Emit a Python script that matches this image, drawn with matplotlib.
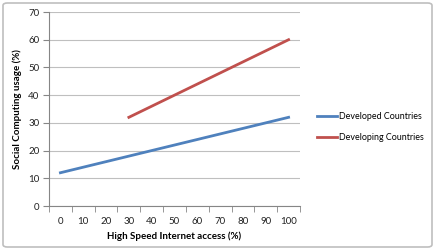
import matplotlib
matplotlib.use("Agg")
import matplotlib.pyplot as plt
from matplotlib.patches import FancyBboxPatch
import numpy as np

# datos
categorias = ["0", "10", "20", "30", "40", "50", "60", "70", "80", "90", "100"]
desarrollados = [12, 14, 16, 18, 20, 22, 24, 26, 28, 30, 32]
en_desarrollo = [None, None, None, 32, 36, 40, 44, 48, 52, 56, 60]

plt.rcParams['font.family'] = ['Lato', 'DejaVu Sans']
tam = 7

fig = plt.figure(figsize=(4.37, 2.5), dpi=100)
ax = fig.add_axes([49/437, 44/250, 251/437, 194/250])

# borde exterior del gráfico
borde = FancyBboxPatch((3/437, 3/250), 429/437, 244/250, boxstyle="round,pad=0,rounding_size=0.01",
                       transform=fig.transFigure, fill=False, edgecolor='#BFBFBF', linewidth=1.2)
fig.patches.append(borde)

x = np.arange(len(categorias))
y2 = np.array([np.nan if v is None else v for v in en_desarrollo], dtype=float)
ax.plot(x, desarrollados, color='#4F81BD', linewidth=2, label='Developed Countries')
ax.plot(x, y2, color='#C0504D', linewidth=2, label='Developing Countries')

ax.set_xlim(-0.5, len(categorias) - 0.5)
ax.set_ylim(0, 70)
ax.set_yticks(range(0, 71, 10))
ax.set_xticks(x)
ax.set_xticklabels(categorias)
ax.set_xticks(np.arange(-0.5, len(categorias), 1), minor=True)
ax.tick_params(axis='x', which='major', length=0, pad=8, labelsize=tam, colors='#222222')
ax.tick_params(axis='x', which='minor', length=4, color='#868686', direction='out')
ax.tick_params(axis='y', length=4, color='#868686', labelsize=tam, pad=3, labelcolor='#222222')

ax.grid(axis='y', color='#BFBFBF', linewidth=0.8)
ax.set_axisbelow(True)
for lado in ['top', 'right']:
    ax.spines[lado].set_visible(False)
for lado in ['left', 'bottom']:
    ax.spines[lado].set_color('#868686')
    ax.spines[lado].set_linewidth(0.8)

ax.set_xlabel('High Speed Internet access (%)', fontsize=tam, fontweight='bold', labelpad=4)
ax.set_ylabel('Social Computing usage (%)', fontsize=tam, fontweight='bold', labelpad=4)

ax.legend(loc='center left', bbox_to_anchor=(309/437, 1 - 127/250), bbox_transform=fig.transFigure,
          frameon=False, fontsize=6.4, handlelength=2.3, handletextpad=0.15, labelspacing=1.3)

plt.savefig('out.png', dpi=100)
